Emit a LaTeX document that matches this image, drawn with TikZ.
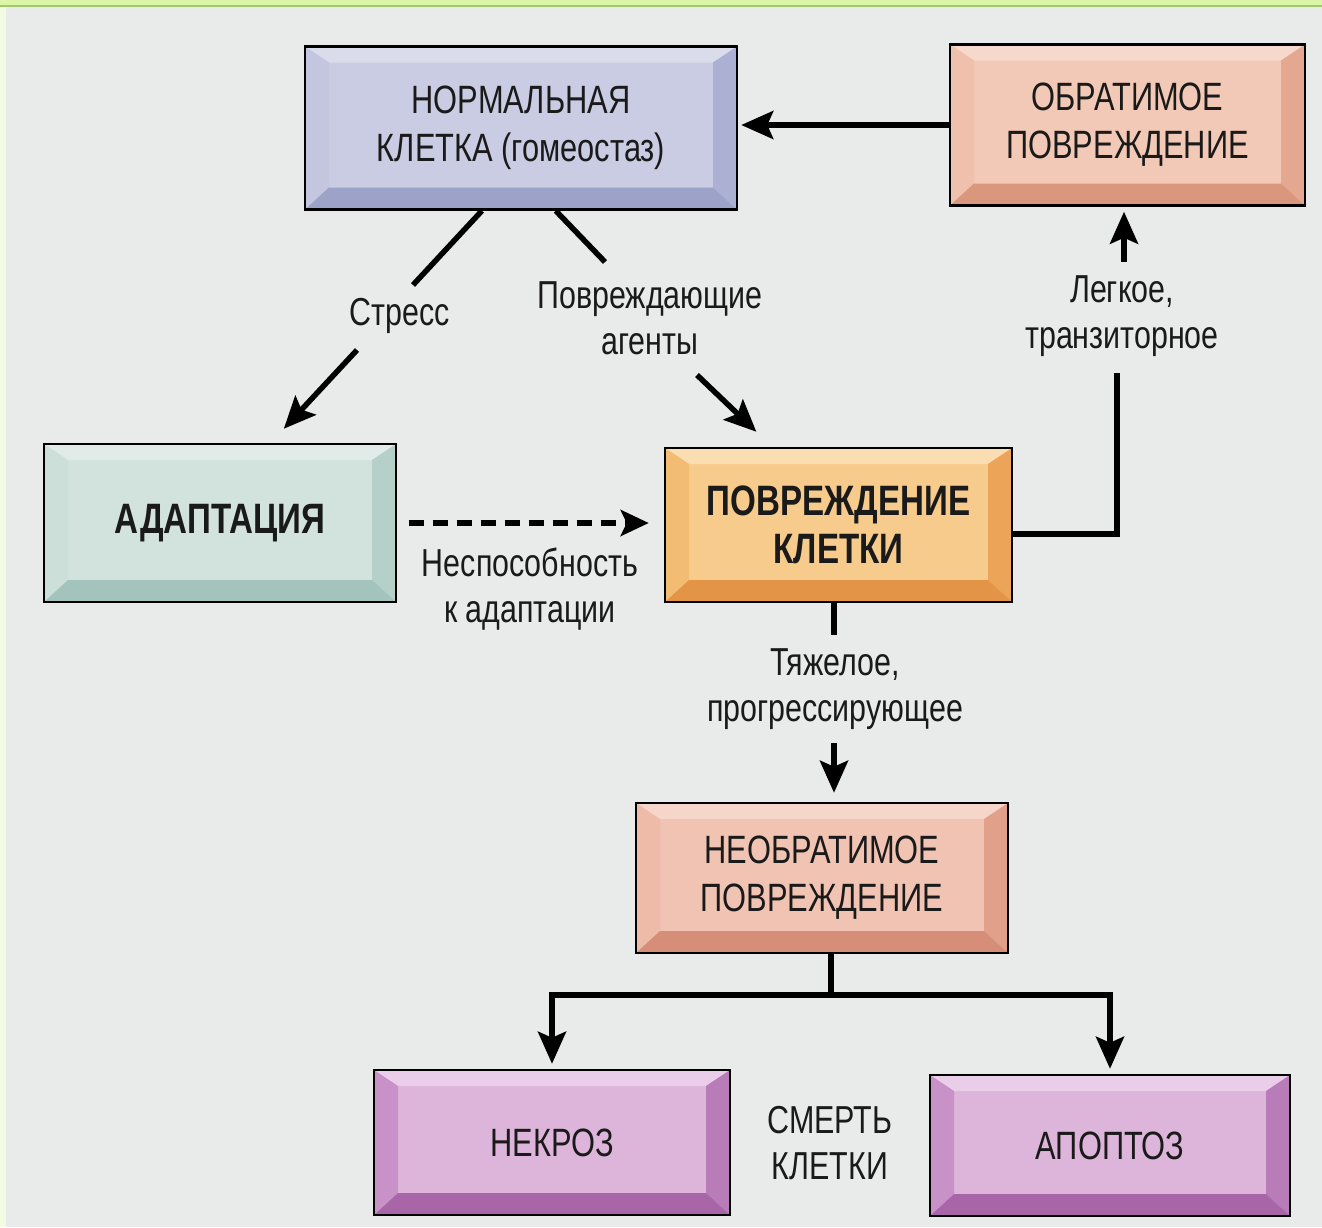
\documentclass[tikz,border=0pt]{standalone}
\usepackage{fontspec}
\setmainfont{Liberation Sans}[FakeStretch=0.78]
\usetikzlibrary{arrows.meta,calc}
\definecolor{bg}{HTML}{E9EBEA}
\definecolor{gtop}{HTML}{DAF6A6}
\definecolor{gline}{HTML}{9FC96A}
\definecolor{gleft}{HTML}{F2FCE3}
\definecolor{ink}{HTML}{1A1A1A}
% normal
\definecolor{nM}{HTML}{C9CCE2}\definecolor{nT}{HTML}{DADCEC}\definecolor{nL}{HTML}{C3C6DE}\definecolor{nR}{HTML}{ACB0D2}\definecolor{nB}{HTML}{9DA2C9}
% reversible
\definecolor{rM}{HTML}{F2C9B6}\definecolor{rT}{HTML}{F6D9CB}\definecolor{rL}{HTML}{EFC1AC}\definecolor{rR}{HTML}{E3A88F}\definecolor{rB}{HTML}{D9977D}
% adaptation
\definecolor{aM}{HTML}{D2E3DE}\definecolor{aT}{HTML}{E1ECE9}\definecolor{aL}{HTML}{CCDFD9}\definecolor{aR}{HTML}{B4D0C9}\definecolor{aB}{HTML}{A2C4BC}
% injury
\definecolor{oM}{HTML}{F7CB8C}\definecolor{oT}{HTML}{FADDB0}\definecolor{oL}{HTML}{F2BC72}\definecolor{oR}{HTML}{EBA458}\definecolor{oB}{HTML}{E39446}
% irreversible
\definecolor{iM}{HTML}{F1C3B3}\definecolor{iT}{HTML}{F6D6CA}\definecolor{iL}{HTML}{EDBBA8}\definecolor{iR}{HTML}{E0A08A}\definecolor{iB}{HTML}{D68E78}
% death
\definecolor{pM}{HTML}{DDB5DA}\definecolor{pT}{HTML}{EACDE8}\definecolor{pL}{HTML}{C891C7}\definecolor{pR}{HTML}{B87CB9}\definecolor{pB}{HTML}{A866A9}
\begin{document}
\begin{tikzpicture}[x=1pt,y=-1pt,
  txt/.style={font=\fontsize{39}{46}\selectfont, text=ink, align=center, inner sep=0pt},
  bevbox/.style={rectangle, draw=black, line width=2.5pt, inner sep=0pt, fill=#1M,
    font=\fontsize{39.5}{48}\selectfont, text=ink, align=center,
    path picture={
      \fill[#1T] (path picture bounding box.north west) -- (path picture bounding box.north east)
        -- ([shift={(-24pt,-16pt)}]path picture bounding box.north east)
        -- ([shift={(24pt,-16pt)}]path picture bounding box.north west) -- cycle;
      \fill[#1L] (path picture bounding box.north west) -- ([shift={(24pt,-16pt)}]path picture bounding box.north west)
        -- ([shift={(24pt,22pt)}]path picture bounding box.south west)
        -- (path picture bounding box.south west) -- cycle;
      \fill[#1R] (path picture bounding box.north east) -- ([shift={(-24pt,-16pt)}]path picture bounding box.north east)
        -- ([shift={(-24pt,22pt)}]path picture bounding box.south east)
        -- (path picture bounding box.south east) -- cycle;
      \fill[#1B] (path picture bounding box.south west) -- ([shift={(24pt,22pt)}]path picture bounding box.south west)
        -- ([shift={(-24pt,22pt)}]path picture bounding box.south east)
        -- (path picture bounding box.south east) -- cycle;
    }},
  boldtext/.style={font=\fontsize{42.5}{48}\selectfont\bfseries},
  conn/.style={line width=5.5pt, draw=black},
  arr/.style={line width=5.5pt, draw=black, -{Stealth[length=32pt,width=28pt,inset=6pt]}},
  darr/.style={line width=6pt, draw=black, dash pattern=on 15pt off 9pt, -{Stealth[length=28pt,width=26pt,inset=6pt]}}
]
\useasboundingbox (0,0) rectangle (1322,1227);
\fill[bg] (0,0) rectangle (1322,1227);
\fill[gleft] (0,0) rectangle (6,1227);
\fill[gtop] (0,0) rectangle (1322,5);
\draw[gline, line width=2pt] (0,6) -- (1322,6);

% boxes
\node[bevbox=n, minimum width=432pt, minimum height=163pt] (normal) at (521,128) {НОРМАЛЬНАЯ\\КЛЕТКА (гомеостаз)};
\node[bevbox=r, minimum width=355pt, minimum height=161pt] (rev) at (1127.5,125) {ОБРАТИМОЕ\\ПОВРЕЖДЕНИЕ};
\node[bevbox=a, boldtext, minimum width=352pt, minimum height=158pt] (adapt) at (220,523) {АДАПТАЦИЯ};
\node[bevbox=o, boldtext, minimum width=347pt, minimum height=154pt] (injury) at (838.5,525) {ПОВРЕЖДЕНИЕ\\КЛЕТКИ};
\node[bevbox=i, minimum width=372pt, minimum height=150pt] (irrev) at (822,878) {НЕОБРАТИМОЕ\\ПОВРЕЖДЕНИЕ};
\node[bevbox=p, minimum width=356pt, minimum height=145pt] (necr) at (552,1142.5) {НЕКРОЗ};
\node[bevbox=p, minimum width=360pt, minimum height=141pt] (apop) at (1110,1145.5) {АПОПТОЗ};

% labels
\node[txt] (lstress) at (400,316) {Стресс};
\node[txt] (lagents) at (650,318) {Повреждающие\\агенты};
\node[txt] (llight) at (1122,316) {Легкое,\\транзиторное};
\node[txt] (lfail) at (530,589) {Неспособность\\к адаптации};
\node[txt] (lsevere) at (835,689) {Тяжелое,\\прогрессирующее};
\node[txt] (ldeath) at (830,1143) {СМЕРТЬ\\КЛЕТКИ};

% free ends
\coordinate (st1) at (413,285);
\coordinate (st2) at (357,350);
\coordinate (ag1) at (605,262);
\coordinate (ag2) at (697,375);
\coordinate (lt1) at (1117,373);
\coordinate (lt2) at (1124,262);
\coordinate (tz1) at (834,635);
\coordinate (tz2) at (834,743);
\coordinate (jn) at (831,995);

% connectors
\draw[arr, shorten >=3pt] (rev.west) -- (normal.east |- rev.west);
\draw[conn] ($(normal.south west)!0.41!(normal.south east)$) -- (st1);
\draw[arr] (st2) -- ($(adapt.north west)!0.68!(adapt.north east)+(0pt,14pt)$);
\draw[conn] ($(normal.south west)!0.58!(normal.south east)$) -- (ag1);
\draw[arr] (ag2) -- ($(injury.north west)!0.265!(injury.north east)+(0pt,15pt)$);
\draw[darr, shorten <=12pt, shorten >=15pt] (adapt.east) -- (injury.west |- adapt.east);
\draw[conn] ([yshift=-9pt]injury.east) -| (lt1);
\draw[arr, shorten >=5pt] (lt2) -- (rev.south -| lt2);
\draw[conn] (injury.south -| tz1) -- (tz1);
\draw[arr, shorten >=9pt] (tz2) -- (irrev.north -| tz2);
\draw[conn] (irrev.south -| jn) -- (jn);
\draw[arr, shorten >=5pt] (jn) -| (necr.north);
\draw[arr, shorten >=5pt] (jn) -| (apop.north);
\end{tikzpicture}
\end{document}
